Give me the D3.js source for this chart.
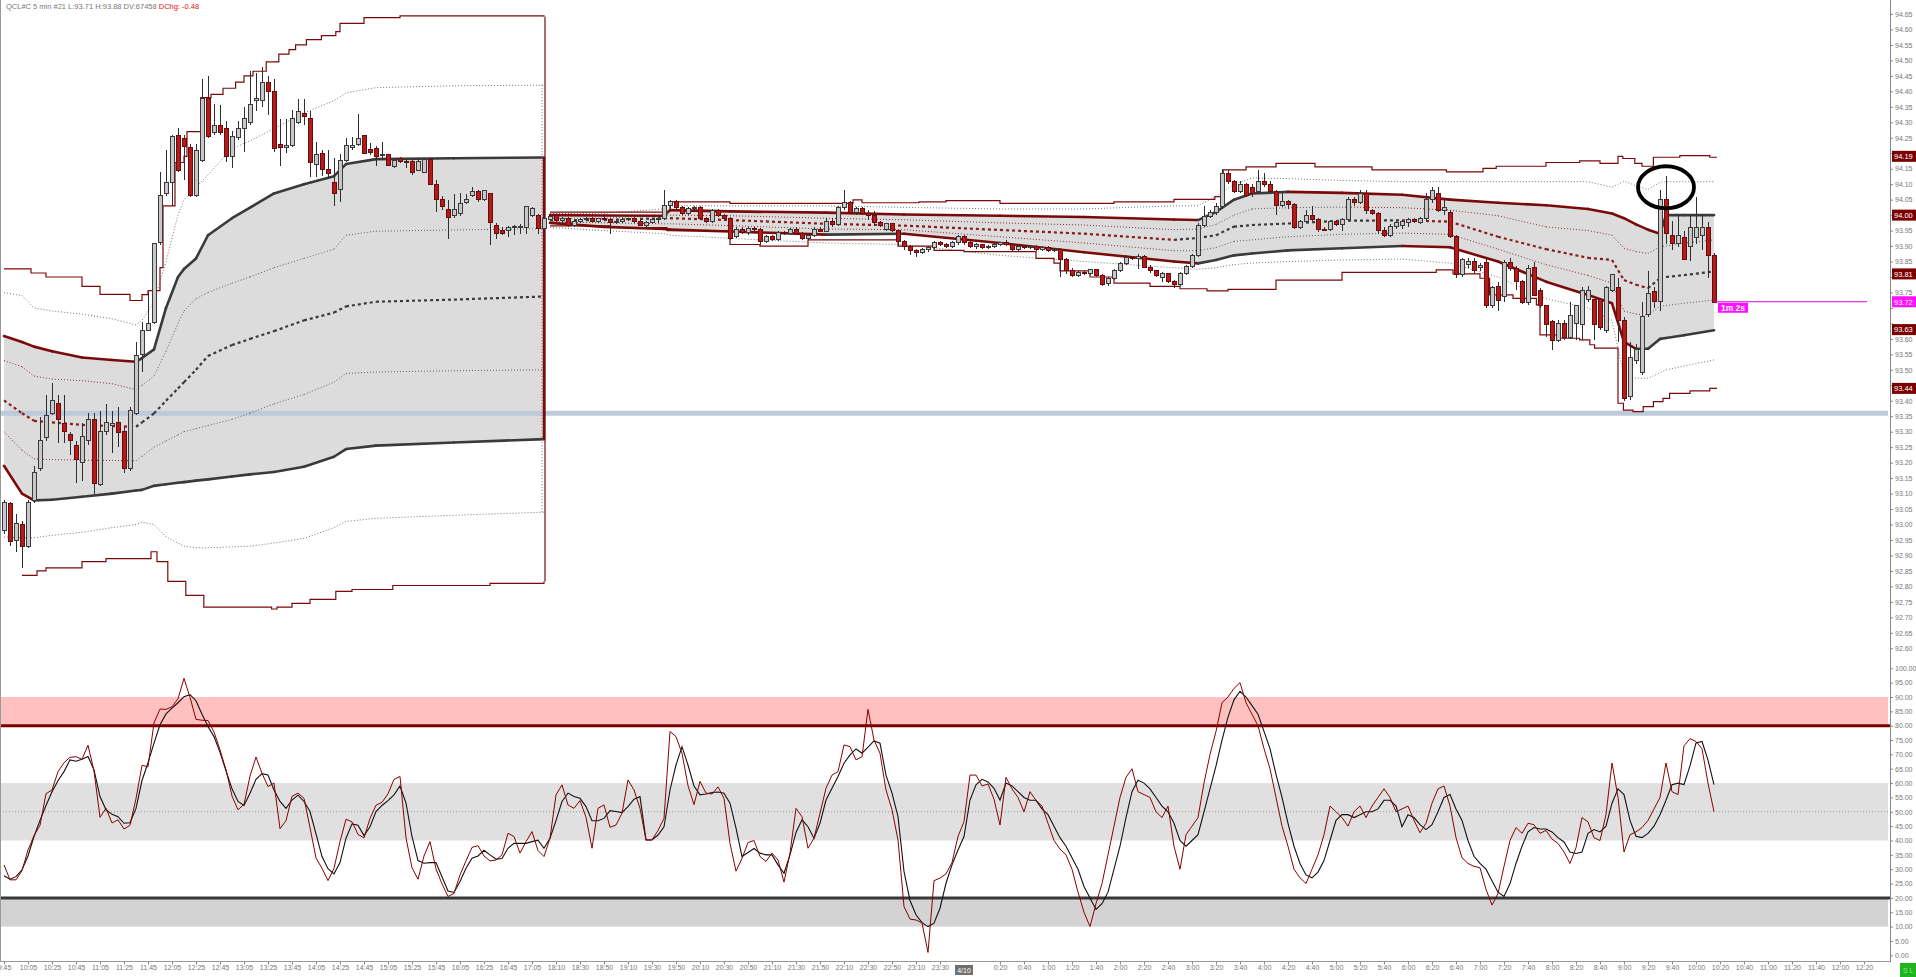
<!DOCTYPE html>
<html><head><meta charset="utf-8">
<script src="https://cdn.jsdelivr.net/npm/d3@7"></script>
<style>
body{margin:0;background:#fff;overflow:hidden}
svg{display:block}
text{font-family:"Liberation Sans",Arial,sans-serif}
</style>
</head><body>
<svg id="c" width="1916" height="977"></svg>
<script>
// ---------------- DATA ----------------
const header = "QCL#C  5 min   #21 L:93.71 H:93.88 DV:67458";
const headerChg = "DChg: -0.48";

// candles [open, high, low, close], one per 5-min bar
const candles = [
[92.98,93.078,92.97,93.072],[93.069,93.072,92.93,92.944],[92.95,93.034,92.912,93.002],[93.00,93.01,92.86,92.93],[92.93,93.08,92.925,93.072],
[93.078,93.19,93.07,93.168],[93.18,93.347,93.174,93.27],[93.28,93.42,93.27,93.353],[93.36,93.458,93.353,93.40],[93.39,93.42,93.264,93.34],
[93.327,93.42,93.264,93.30],[93.29,93.30,93.225,93.27],[93.257,93.27,93.133,93.21],[93.202,93.327,93.142,93.283],[93.27,93.36,93.257,93.34],
[93.34,93.36,93.098,93.133],[93.13,93.366,93.123,93.302],[93.30,93.39,93.29,93.33],[93.32,93.366,93.23,93.328],[93.33,93.379,93.25,93.296],
[93.302,93.315,93.168,93.18],[93.18,93.379,93.174,93.368],[93.36,93.59,93.353,93.547],[93.55,93.653,93.494,93.628],[93.628,93.75,93.624,93.65],
[93.654,93.91,93.648,93.909],[93.91,94.139,93.905,94.062],[94.07,94.21,94.062,94.107],[94.107,94.26,94.03,94.254],[94.258,94.28,94.139,94.143],
[94.248,94.26,94.113,94.222],[94.22,94.229,94.06,94.062],[94.062,94.229,94.06,94.21],[94.178,94.44,94.171,94.378],[94.378,94.45,94.248,94.254],
[94.267,94.36,94.26,94.29],[94.29,94.356,94.26,94.267],[94.28,94.305,94.171,94.19],[94.19,94.273,94.152,94.254],[94.25,94.305,94.242,94.28],
[94.28,94.35,94.203,94.312],[94.30,94.467,94.292,94.356],[94.37,94.459,94.337,94.378],[94.37,94.478,94.35,94.43],[94.43,94.45,94.324,94.399],
[94.40,94.44,94.203,94.216],[94.228,94.312,94.16,94.22],[94.22,94.31,94.20,94.225],[94.225,94.34,94.22,94.312],[94.30,94.375,94.296,94.335],
[94.33,94.375,94.292,94.318],[94.312,94.337,94.122,94.171],[94.165,94.235,94.122,94.197],[94.20,94.21,94.126,94.148],[94.148,94.21,94.12,94.133],
[94.107,94.183,94.03,94.07],[94.082,94.197,94.043,94.177],[94.177,94.248,94.171,94.225],[94.22,94.254,94.212,94.225],[94.229,94.327,94.225,94.248],
[94.257,94.257,94.197,94.199],[94.212,94.232,94.194,94.203],[94.216,94.222,94.16,94.19],[94.193,94.237,94.186,94.195],[94.197,94.199,94.158,94.16],
[94.158,94.184,94.152,94.177],[94.184,94.189,94.168,94.174],[94.174,94.181,94.152,94.172],[94.174,94.184,94.13,94.139],[94.145,94.184,94.143,94.174],
[94.139,94.184,94.135,94.18],[94.18,94.184,94.097,94.10],[94.10,94.113,94.011,94.05],[94.05,94.062,94.018,94.028],[94.018,94.05,93.922,93.992],
[93.998,94.069,93.992,94.018],[94.005,94.071,93.998,94.037],[94.04,94.069,94.037,94.05],[94.062,94.092,94.058,94.075],[94.075,94.081,94.043,94.05],
[94.05,94.081,94.046,94.078],[94.069,94.071,93.903,93.977],[93.967,93.973,93.922,93.941],[93.951,93.96,93.935,93.939],[93.951,93.964,93.93,93.96],
[93.962,93.969,93.935,93.964],[93.96,93.97,93.94,93.964],[93.96,94.03,93.94,94.028],[94.0,94.025,93.995,94.02],[94.0,94.005,93.94,93.957],
[93.957,94.0,93.95,93.99],[93.985,94.0,93.98,93.995],[94.0,94.005,93.978,93.982],[93.982,93.995,93.975,93.99],[93.99,93.995,93.96,93.965],
[93.965,93.985,93.96,93.98],[93.98,93.99,93.975,93.985],[93.985,93.995,93.98,93.99],[93.99,93.995,93.978,93.98],[93.98,93.99,93.975,93.988],
[93.988,93.995,93.98,93.985],[93.985,93.99,93.94,93.975],[93.975,93.985,93.97,93.98],[93.98,93.99,93.975,93.985],[93.985,93.99,93.98,93.988],
[93.988,93.995,93.975,93.978],[93.978,93.99,93.965,93.968],[93.968,93.98,93.96,93.975],[93.975,93.99,93.97,93.985],[93.985,93.998,93.975,93.99],
[93.99,94.08,93.985,94.03],[94.03,94.05,94.02,94.045],[94.045,94.05,94.02,94.025],[94.025,94.03,94.0,94.005],[94.005,94.025,94.0,94.02],
[94.02,94.03,94.01,94.025],[94.025,94.03,93.985,93.99],[93.99,93.995,93.975,93.98],[93.98,94.02,93.975,94.015],[94.015,94.02,93.995,94.0],
[94.0,94.005,93.985,93.99],[93.99,93.995,93.92,93.925],[93.93,93.96,93.925,93.955],[93.955,93.96,93.94,93.945],[93.945,93.96,93.935,93.958],
[93.958,93.962,93.95,93.955],[93.955,93.958,93.905,93.915],[93.915,93.935,93.91,93.93],[93.93,93.935,93.915,93.92],[93.92,93.95,93.915,93.945],
[93.945,93.95,93.935,93.94],[93.94,93.958,93.935,93.955],[93.955,93.96,93.94,93.942],[93.942,93.945,93.92,93.925],[93.925,93.94,93.92,93.935],
[93.935,93.96,93.93,93.955],[93.955,93.96,93.945,93.948],[93.948,93.99,93.945,93.98],[93.98,93.99,93.96,93.97],[93.97,94.03,93.965,94.025],
[94.025,94.08,94.015,94.04],[94.04,94.045,94.005,94.01],[94.01,94.025,94.0,94.02],[94.02,94.025,94.0,94.005],[94.005,94.015,93.985,94.0],
[94.0,94.012,93.965,93.975],[93.975,93.98,93.96,93.965],[93.955,93.975,93.95,93.972],[93.972,93.975,93.945,93.95],[93.95,93.952,93.9,93.915],
[93.915,93.92,93.888,93.9],[93.9,93.905,93.87,93.885],[93.885,93.89,93.866,93.88],[93.88,93.895,93.875,93.89],[93.89,93.9,93.88,93.895],
[93.895,93.915,93.89,93.91],[93.91,93.915,93.9,93.905],[93.905,93.91,93.895,93.9],[93.9,93.915,93.895,93.912],[93.912,93.935,93.905,93.93],
[93.93,93.935,93.905,93.91],[93.91,93.915,93.895,93.9],[93.9,93.91,93.89,93.905],[93.905,93.908,93.89,93.895],[93.895,93.905,93.892,93.9],
[93.9,93.91,93.895,93.905],[93.905,93.912,93.9,93.91],[93.91,93.918,93.9,93.905],[93.905,93.91,93.885,93.89],[93.89,93.905,93.885,93.9],
[93.9,93.905,93.89,93.895],[93.895,93.905,93.89,93.9],[93.9,93.905,93.885,93.89],[93.89,93.9,93.885,93.895],[93.895,93.9,93.88,93.885],
[93.885,93.895,93.88,93.89],[93.89,93.895,93.8,93.855],[93.855,93.86,93.81,93.82],[93.82,93.83,93.8,93.805],[93.805,93.82,93.8,93.815],
[93.815,93.82,93.805,93.81],[93.81,93.825,93.805,93.823],[93.823,93.826,93.8,93.805],[93.805,93.81,93.77,93.775],[93.78,93.8,93.772,93.795],
[93.795,93.825,93.79,93.82],[93.82,93.85,93.815,93.845],[93.845,93.87,93.84,93.862],[93.862,93.868,93.855,93.86],[93.86,93.875,93.825,93.866],
[93.866,93.87,93.83,93.832],[93.832,93.84,93.812,93.82],[93.82,93.822,93.8,93.805],[93.8,93.815,93.785,93.81],[93.81,93.812,93.78,93.785],
[93.785,93.79,93.763,93.776],[93.775,93.815,93.77,93.81],[93.81,93.84,93.805,93.835],[93.835,93.875,93.83,93.87],[93.87,93.975,93.865,93.965],
[93.965,94.03,93.96,93.995],[93.995,94.015,93.99,94.01],[94.01,94.038,94.0,94.028],[94.028,94.148,94.02,94.135],[94.135,94.145,94.1,94.11],
[94.11,94.115,94.07,94.075],[94.075,94.11,94.07,94.1],[94.1,94.105,94.06,94.065],[94.09,94.1,94.06,94.07],[94.075,94.145,94.07,94.11],
[94.11,94.135,94.09,94.1],[94.1,94.11,94.07,94.075],[94.075,94.08,94.0,94.03],[94.03,94.07,94.025,94.045],[94.045,94.05,94.02,94.035],
[94.035,94.04,93.955,93.96],[93.96,93.985,93.955,93.98],[93.98,94.015,93.975,94.0],[94.0,94.03,93.98,93.985],[93.985,93.99,93.945,93.955],
[93.955,93.96,93.95,93.952],[93.952,93.985,93.95,93.98],[93.98,93.985,93.965,93.97],[93.97,93.99,93.95,93.985],[93.985,94.06,93.98,94.05],
[94.05,94.06,94.03,94.04],[94.04,94.08,94.035,94.07],[94.07,94.08,94.005,94.015],[94.015,94.02,94.0,94.005],[94.005,94.01,93.94,93.95],
[93.95,93.96,93.93,93.935],[93.935,93.97,93.93,93.962],[93.962,93.98,93.955,93.975],[93.965,93.985,93.955,93.978],[93.975,93.99,93.96,93.985],
[93.985,93.99,93.975,93.98],[93.975,93.995,93.97,93.99],[93.99,94.07,93.985,94.05],[94.05,94.09,94.04,94.08],[94.07,94.09,94.01,94.015],
[94.015,94.05,94.0,94.025],[94.01,94.015,93.925,93.93],[93.93,93.935,93.797,93.808],[93.808,93.86,93.8,93.855],[93.84,93.86,93.83,93.85],
[93.85,93.86,93.81,93.82],[93.83,93.845,93.82,93.838],[93.848,93.86,93.70,93.707],[93.707,93.77,93.70,93.765],[93.77,93.785,93.69,93.725],
[93.737,93.855,93.72,93.848],[93.848,93.86,93.82,93.828],[93.828,93.835,93.757,93.787],[93.787,93.79,93.712,93.716],[93.716,93.84,93.71,93.828],
[93.83,93.85,93.74,93.74],[93.757,93.765,93.70,93.707],[93.707,93.71,93.605,93.645],[93.655,93.66,93.565,93.596],[93.596,93.66,93.59,93.65],
[93.65,93.66,93.595,93.605],[93.605,93.72,93.6,93.676],[93.65,93.71,93.595,93.707],[93.646,93.767,93.596,93.757],[93.726,93.77,93.72,93.757],
[93.727,93.73,93.595,93.646],[93.727,93.73,93.63,93.636],[93.626,93.77,93.62,93.767],[93.757,93.81,93.75,93.807],[93.767,93.798,93.59,93.66],
[93.66,93.672,93.40,93.408],[93.414,93.59,93.404,93.541],[93.53,93.585,93.52,93.565],[93.49,93.72,93.484,93.672],[93.678,93.818,93.67,93.748],
[93.753,93.767,93.70,93.721],[93.72,94.08,93.69,94.05],[94.05,94.126,93.908,93.939],[93.933,93.98,93.888,93.908],[93.908,93.999,93.898,93.935],
[93.928,93.948,93.855,93.858],[93.898,93.999,93.852,93.959],[93.929,94.06,93.908,93.959],[93.933,94.0,93.888,93.959],[93.959,93.979,93.797,93.868],
[93.868,93.878,93.716,93.717]
];

// stochastic %K (red) and %D (black), one per bar
const stochK = [
31.5,26.3,26.3,29.5,36.7,41.7,45.3,56.3,57.6,64.0, 67.1,69.0,69.2,68.3,73.2,64.2,48.1,51.2,46.1,47.2,
44.0,45.3,54.6,66.2,65.7,81.0,85.8,85.7,86.6,89.4, 96.5,89.9,82.2,81.9,81.8,77.8,71.6,64.6,55.5,50.7,
52.6,62.4,69.1,63.4,58.8,60.0,44.1,46.9,55.4,56.5, 54.7,44.5,33.9,30.3,26.0,30.3,39.6,47.4,46.5,42.1,
40.9,47.7,52.3,53.3,56.3,61.3,62.3,40.9,30.5,26.5, 34.6,39.6,30.1,24.9,20.5,21.6,28.0,32.9,37.6,38.2,
34.6,32.9,33.2,35.0,42.5,41.4,35.6,39.6,43.1,36.5, 34.4,40.8,55.9,59.4,52.4,51.2,53.9,48.1,37.3,51.2,
52.4,44.6,45.4,49.5,61.1,57.6,51.2,40.2,40.2,43.5, 47.7,78.0,76.2,70.4,59.1,52.5,60.6,56.5,56.2,58.7,
54.7,39.0,29.3,33.8,39.3,40.0,34.4,32.7,35.6,33.2, 25.5,35.6,51.2,48.3,37.3,40.8,49.5,58.2,62.8,64.0,
73.3,72.7,68.1,69.2,85.7,75.0,70.4,57.6,50.7,40.2, 17.0,12.6,12.3,11.3,1.0,26.0,26.9,28.4,32.3,41.4,
46.6,62.8,62.8,59.0,59.7,54.4,45.4,
62,58,55,50,57,54,52,46,40,37, 35,30,22,15,10,18,25,35,45,55, 62,65,57,56,55,50,48,52,38,30,
42,45,48,60,70,78,88,90,93,95, 88,84,80,72,65,55,45,38,30,27, 25,30,35,42,52,50,48,45,50,52, 48,52,55,58,55,50,
51,52,47,42.7,46,53,58,59,52,41, 34,32,31,30.5,23,17.5,21.5,31,40,44.5, 42.5,46,45.5,42.5,43.5,40.5,39,36,32,37.5,
48,46.5,41,40,49,67,55,36,42,43, 44.5,47,51,55,67,57,56,73,75.5,74.5, 72,60,50
];
const stochD = [
27.7,26.5,27.4,29.8,34.6,41.4,47.0,52.2,57.0,60.8, 64.0,68.1,67.6,68.3,69.3,64.6,55.3,50.7,49.1,48.3,
46.0,46.2,51.2,60.9,67.1,73.9,80.3,84.1,86.1,88.0, 90.1,90.8,88.7,84.0,79.7,76.2,70.7,64.3,58.0,53.6,
52.2,56.5,61.3,63.3,62.8,57.6,53.6,51.2,54.1,55.8, 53.6,50.1,42.3,34.4,30.2,28.4,32.3,40.8,45.8,45.3,
41.7,44.8,50.1,52.2,53.9,55.9,59.0,53.0,41.4,33.0, 32.1,32.3,32.3,27.4,22.4,21.9,25.7,30.3,33.8,34.6,
36.6,35.0,33.5,33.7,37.3,39.0,39.0,39.0,39.6,40.1, 37.3,40.8,46.9,53.6,56.5,55.3,54.7,51.8,46.9,46.9,
47.7,50.4,50.1,49.7,51.8,54.4,55.3,40.2,40.2,41.9, 44.8,57.6,66.3,72.7,66.3,59.0,55.9,56.2,56.7,56.9,
56.5,53.0,44.3,34.4,35.8,37.2,35.6,35.0,35.0,31.5, 28.6,35.0,42.8,47.2,44.8,40.8,46.0,54.1,58.2,62.3,
66.9,69.8,71.9,70.4,72.5,74.7,73.9,62.8,56.5,48.3, 29.2,19.1,14.1,11.4,10.0,11.2,16.4,25.1,31.5,36.7,
41.4,54.1,59.4,61.3,60.4,58.2,54.1,
60,59,57,55,54,54,51,49,45,41, 38,34,30,24,20,16,18,22,30,38, 48,57,61,60,58,55,52,50,46,40,
38,40,42,50,58,66,75,83,89,92, 90,87,84,78,72,63,55,46,38,32, 28,27,29,33,40,47,49,49,48,49, 50,50,51,54,54,52,
44.8,49,48,45.5,43.8,45.5,50,55,56,51, 47,40,34.5,32,30,26,22,20.5,25,32, 38,43,44.5,44,44,43,41,39.5,36,35.5,
36,42.5,43.8,43,45,53,58,56,47,41.5, 41,42.5,45,49,54,59.4,60,59.5,66,74, 74.5,68,59.5
];

// Day-session developing value bands (sampled at bar indices)
const s1Idx  = [0,3,5,8,13,18,22,23,25,27,29,30,32,34,38,41,45,50,55,57,62,75,90];
const s1Vah  = [93.609,93.59,93.575,93.56,93.54,93.532,93.526,93.538,93.566,93.70,93.80,93.826,93.86,93.935,93.99,94.024,94.07,94.10,94.126,94.165,94.181,94.184,94.186];
const s1Val  = [93.19,93.10,93.078,93.08,93.09,93.10,93.11,93.112,93.125,93.13,93.135,93.137,93.142,93.146,93.155,93.162,93.17,93.187,93.219,93.244,93.255,93.265,93.276];
const s1Mid  = [93.401,93.36,93.335,93.33,93.322,93.318,93.316,93.33,93.359,93.40,93.44,93.46,93.50,93.545,93.58,93.60,93.625,93.66,93.685,93.705,93.72,93.727,93.737];
const s1Sd1u = [93.53,93.51,93.48,93.47,93.465,93.455,93.436,93.45,93.48,93.56,93.65,93.69,93.73,93.75,93.78,93.80,93.83,93.86,93.89,93.935,93.948,93.952,93.956];
const s1Sd1d = [93.30,93.24,93.212,93.21,93.208,93.207,93.206,93.22,93.25,93.27,93.29,93.30,93.31,93.32,93.34,93.36,93.39,93.42,93.46,93.488,93.493,93.497,93.50];
const s1Sd2u = [93.749,93.74,93.70,93.69,93.68,93.665,93.645,93.66,93.72,93.85,94.0,94.05,94.09,94.13,94.215,94.24,94.28,94.33,94.37,94.395,94.412,94.418,94.42];
const s1Sd2d = [92.96,92.957,92.957,92.965,92.975,92.99,93.0,93.008,93.0,92.96,92.94,92.93,92.925,92.925,92.928,92.93,92.94,92.955,92.99,93.01,93.02,93.03,93.04];
const s1UoIdx = [0,4.5,7,13,16,21,23,24,26,26.5,28.5,30,30.5,32.8,34.5,36.5,38.6,40,41.5,43.7,45.8,47.5,48.6,50.4,52.9,55.3,56,60,66,90];
const s1UoVal = [93.826,93.813,93.80,93.77,93.744,93.724,93.743,93.756,93.83,94.03,94.17,94.19,94.27,94.38,94.39,94.41,94.43,94.45,94.465,94.495,94.52,94.535,94.55,94.567,94.58,94.593,94.62,94.638,94.644,94.641];
const s1LoIdx = [3,5.5,7,13,17,24.5,25.5,27.3,30.3,33.3,44.6,45.5,48,51,55.3,58,64.8,81,90];
const s1LoVal = [92.836,92.85,92.86,92.88,92.89,92.912,92.88,92.816,92.771,92.733,92.727,92.733,92.745,92.758,92.784,92.79,92.803,92.81,92.816];

// Overnight developing value bands
const s2Idx  = [91,100,110,111,121,137,150,166,180,195,199,202,205,208,214,223,233,241,249,257,264,268,270,272,274,276,277,280,285];
const s2Vah  = [94.0,93.999,93.998,94.016,94.012,94.008,94.002,93.998,93.994,93.986,93.984,94.01,94.05,94.07,94.075,94.072,94.066,94.05,94.04,94.032,94.02,94.005,93.99,93.97,93.953,93.94,94.0,94.0,94.0];
const s2Val  = [93.975,93.962,93.955,93.953,93.947,93.937,93.94,93.91,93.88,93.85,93.844,93.855,93.87,93.876,93.886,93.893,93.90,93.896,93.85,93.785,93.742,93.715,93.59,93.568,93.568,93.60,93.603,93.612,93.628];
const s2Mid  = [93.984,93.984,93.99,93.99,93.984,93.972,93.966,93.952,93.94,93.92,93.926,93.935,93.963,93.968,93.973,93.982,93.983,93.979,93.93,93.89,93.862,93.855,93.79,93.775,93.764,93.796,93.80,93.806,93.818];
const s2Sd1u = [93.99,93.99,94.0,94.0,93.998,93.99,93.985,93.975,93.968,93.953,93.955,93.97,94.0,94.02,94.024,94.026,94.024,94.016,93.998,93.962,93.95,93.935,93.893,93.882,93.876,93.898,93.90,93.91,93.92];
const s2Sd1d = [93.978,93.975,93.972,93.972,93.966,93.955,93.953,93.93,93.91,93.885,93.885,93.895,93.915,93.92,93.93,93.938,93.942,93.938,93.89,93.84,93.805,93.78,93.69,93.68,93.677,93.705,93.708,93.715,93.726];
const s2Sd2u = [94.005,94.006,94.02,94.03,94.03,94.03,94.025,94.02,94.02,94.03,94.03,94.06,94.10,94.12,94.118,94.112,94.108,94.108,94.108,94.108,94.108,94.09,94.11,94.095,94.083,94.106,94.108,94.108,94.108];
const s2Sd2d = [93.96,93.95,93.94,93.935,93.925,93.91,93.905,93.87,93.85,93.83,93.825,93.83,93.84,93.845,93.85,93.855,93.858,93.845,93.80,93.73,93.70,93.66,93.48,93.473,93.473,93.49,93.50,93.512,93.532];
const s2UoIdx = [91,99,110.5,111,121,141.5,143,152.5,157,166,185,195,201.8,203.2,207,212,218.5,228,240.4,246.5,248.7,257,262.6,266,269,269.8,271.8,273,274.9,279.3,284.3,285.5];
const s2UoVal = [94.01,94.01,94.012,94.043,94.038,94.049,94.04,94.043,94.047,94.038,94.043,94.051,94.06,94.146,94.156,94.167,94.156,94.146,94.14,94.151,94.158,94.17,94.175,94.167,94.19,94.183,94.167,94.158,94.187,94.192,94.187,94.187];
const s2LoIdx = [91,101,110.5,121,126,134,148.5,149,155,160,172,175,176,181,185,191,196,200.5,204,212,223,238.7,241.5,246,247.6,251.5,255.4,256,259.3,262.6,264.3,265.1,269,269.9,271.5,273.2,274.9,276.5,277.6,281,284.3,285.5];
const s2LoVal = [93.965,93.96,93.95,93.905,93.9,93.92,93.92,93.9,93.886,93.882,93.86,93.845,93.82,93.80,93.78,93.77,93.762,93.755,93.76,93.79,93.815,93.823,93.81,93.796,93.742,93.731,93.71,93.613,93.602,93.597,93.581,93.57,93.392,93.37,93.365,93.381,93.397,93.408,93.424,93.432,93.44,93.44];

const supportLevel = 93.36;
const lastPrice = 93.72;
const lastPriceLabel = "1m 2s";
const markerValues = [94.19, 94.00, 93.81, 93.63, 93.44];
const circledBar = 277, circledPrice = 94.09;

const oscZoneLo = [80, 40, 10];
const oscZoneHi = [90, 60, 20];
const oscZoneFill = ["#ffc0c0", "#e0e0e0", "#d3d3d3"];

const dayLabels = ["9:45","10:05","10:25","10:45","11:05","11:25","11:45","12:05","12:25","12:45","13:05","13:25","13:45","14:05","14:25","14:45","15:05","15:25","15:45","16:05","16:25","16:45","17:05"];
const eveLabels = ["18:10","18:30","18:50","19:10","19:30","19:50","20:10","20:30","20:50","21:10","21:30","21:50","22:10","22:30","22:50","23:10","23:30"];
const nextLabels = ["0:20","0:40","1:00","1:20","1:40","2:00","2:20","2:40","3:00","3:20","3:40","4:00","4:20","4:40","5:00","5:20","5:40","6:00","6:20","6:40","7:00","7:20","7:40","8:00","8:20","8:40","9:00","9:20","9:40","10:00","10:20","10:40","11:00","11:20","11:40","12:00","12:20"];
const dateLabel = "4/10", dateIdx = 160;

// ---------------- DRAW ----------------
const svg = d3.select('#c');
const AXX = 1890;
const x  = d3.scaleLinear().domain([0, 310]).range([4, 1864]);
const yP = d3.scaleLinear().domain([92.60, 94.65]).range([648.3, 14]);
const yO = d3.scaleLinear().domain([0, 100]).range([955.3, 668.3]);
const RED = '#7a0a0a', DK = '#3a3a3a';
const FONT = 7;

svg.append('rect').attr('width',1916).attr('height',977).attr('fill','#fff');

// oscillator zones
const gO = svg.append('g');
oscZoneLo.forEach((lo,k)=>{
  gO.append('rect').attr('x',0).attr('width',AXX-2)
    .attr('y',yO(oscZoneHi[k])).attr('height',yO(lo)-yO(oscZoneHi[k])).attr('fill',oscZoneFill[k]);
});
gO.append('line').attr('x1',0).attr('x2',AXX).attr('y1',yO(50)).attr('y2',yO(50))
  .attr('stroke','#888').attr('stroke-width',0.8).attr('stroke-dasharray','1,2');
gO.append('line').attr('x1',0).attr('x2',AXX).attr('y1',yO(80)).attr('y2',yO(80))
  .attr('stroke','#7a0000').attr('stroke-width',3);
gO.append('line').attr('x1',0).attr('x2',AXX).attr('y1',yO(20)).attr('y2',yO(20))
  .attr('stroke','#383838').attr('stroke-width',3);
const oscLine = d3.line().x((d,i)=>x(i)).y(d=>yO(d));
gO.append('path').attr('d',oscLine(stochD)).attr('fill','none').attr('stroke','#111').attr('stroke-width',1.1);
gO.append('path').attr('d',oscLine(stochK)).attr('fill','none').attr('stroke','#8b0000').attr('stroke-width',1);

// price pane
const gP = svg.append('g');
function zipPts(idx, a, b){ return idx.map((d,k)=>({i:d,a:a[k],b:b?b[k]:null})); }
const area = d3.area().x(d=>x(d.i)).y0(d=>yP(d.b)).y1(d=>yP(d.a));
gP.append('path').attr('d',area(zipPts(s1Idx,s1Vah,s1Val))).attr('fill','#dcdcdc');
gP.append('path').attr('d',area(zipPts(s2Idx,s2Vah,s2Val))).attr('fill','#dcdcdc');

// support line
gP.append('line').attr('x1',0).attr('x2',AXX-2).attr('y1',yP(supportLevel)).attr('y2',yP(supportLevel))
  .attr('stroke','#bccadb').attr('stroke-width',5);

function slopeSegs(idx, vals, w, dash, redC, grayC){
  for(let k=0;k<idx.length-1;k++){
    const c = vals[k+1] < vals[k]-1e-4 ? redC : grayC;
    gP.append('line').attr('x1',x(idx[k])).attr('y1',yP(vals[k]))
      .attr('x2',x(idx[k+1])).attr('y2',yP(vals[k+1]))
      .attr('stroke',c).attr('stroke-width',w)
      .attr('stroke-dasharray',dash)
      .attr('stroke-linecap',dash?'butt':'round');
  }
}
const plainLine = d3.line().x(d=>x(d.i)).y(d=>yP(d.a));
function dotted(idx, vals, color){
  gP.append('path').attr('d',plainLine(zipPts(idx,vals))).attr('fill','none')
    .attr('stroke',color).attr('stroke-width',0.9).attr('stroke-dasharray','1,2');
}
const stepLine = d3.line().x(d=>x(d.i)).y(d=>yP(d.a)).curve(d3.curveStepAfter);
function stepped(idx, vals){
  gP.append('path').attr('d',stepLine(zipPts(idx,vals))).attr('fill','none')
    .attr('stroke',RED).attr('stroke-width',1.2);
}

// segment 1
dotted(s1Idx, s1Sd2u, '#666'); dotted(s1Idx, s1Sd2d, '#666');
slopeSegs(s1Idx, s1Sd1u, 0.9, '1,2', '#8b1a1a', '#555');
slopeSegs(s1Idx, s1Sd1d, 0.9, '1,2', '#8b1a1a', '#555');
slopeSegs(s1Idx, s1Mid, 2.2, '3,3', '#8b1a1a', DK);
slopeSegs(s1Idx, s1Vah, 2.6, null, RED, DK);
slopeSegs(s1Idx, s1Val, 2.6, null, RED, DK);
stepped(s1UoIdx, s1UoVal); stepped(s1LoIdx, s1LoVal);
// session-end verticals
const endI = s1Idx[s1Idx.length-1];
gP.append('line').attr('x1',x(endI)-2).attr('x2',x(endI)-2)
  .attr('y1',yP(s1Sd2u[s1Sd2u.length-1])).attr('y2',yP(s1Sd2d[s1Sd2d.length-1]))
  .attr('stroke','#666').attr('stroke-width',0.9).attr('stroke-dasharray','1,2');
gP.append('line').attr('x1',x(endI)).attr('x2',x(endI))
  .attr('y1',yP(s1Vah[s1Vah.length-1])).attr('y2',yP(s1Val[s1Val.length-1]))
  .attr('stroke',RED).attr('stroke-width',2.4);
gP.append('line').attr('x1',x(endI)+1).attr('x2',x(endI)+1)
  .attr('y1',yP(s1UoVal[s1UoVal.length-1])).attr('y2',yP(s1LoVal[s1LoVal.length-1]))
  .attr('stroke',RED).attr('stroke-width',1.2);

// segment 2
dotted(s2Idx, s2Sd2u, '#666'); dotted(s2Idx, s2Sd2d, '#666');
slopeSegs(s2Idx, s2Sd1u, 0.9, '1,2', '#8b1a1a', '#555');
slopeSegs(s2Idx, s2Sd1d, 0.9, '1,2', '#8b1a1a', '#555');
slopeSegs(s2Idx, s2Mid, 2.2, '3,3', '#8b1a1a', DK);
slopeSegs(s2Idx, s2Vah, 2.6, null, RED, DK);
slopeSegs(s2Idx, s2Val, 2.6, null, RED, DK);
stepped(s2UoIdx, s2UoVal); stepped(s2LoIdx, s2LoVal);

// candles
const gC = gP.append('g').attr('shape-rendering','crispEdges');
candles.forEach((c,i)=>{
  const [o,h,l,cl] = c; const xc = Math.round(x(i));
  const up = cl >= o;
  gC.append('line').attr('x1',xc+0.5).attr('x2',xc+0.5).attr('y1',yP(h)).attr('y2',yP(l))
    .attr('stroke','#2e2e2e').attr('stroke-width',1.4);
  const top = yP(Math.max(o,cl)), bot = yP(Math.min(o,cl));
  gC.append('rect').attr('x',xc-1.5).attr('width',4).attr('y',top).attr('height',Math.max(1,bot-top))
    .attr('fill', up ? '#c8c8c8' : '#b31b1b')
    .attr('stroke', up ? '#3a3a3a' : '#6a0c0c').attr('stroke-width',1);
});

// last price line + timer label
const lastI = candles.length-1;
gP.append('line').attr('x1',x(lastI)).attr('x2',1867).attr('y1',yP(lastPrice)).attr('y2',yP(lastPrice))
  .attr('stroke','#e000e0').attr('stroke-width',1);
gP.append('rect').attr('x',x(lastI)+4).attr('y',yP(lastPrice)+1).attr('width',30).attr('height',10).attr('fill','#ff10ff');
gP.append('text').attr('x',x(lastI)+19).attr('y',yP(lastPrice)+9.2).attr('text-anchor','middle')
  .attr('fill','#fff').attr('font-size',8.5).attr('font-weight','bold').text(lastPriceLabel);

// ellipse annotation
gP.append('ellipse').attr('cx',x(circledBar)).attr('cy',yP(circledPrice)).attr('rx',28).attr('ry',21)
  .attr('fill','none').attr('stroke','#000').attr('stroke-width',3.8);

// left border
svg.append('line').attr('x1',0.5).attr('x2',0.5).attr('y1',0).attr('y2',961).attr('stroke','#999');

// right axes (price tick labels hidden where a value marker covers them)
const allMarks = [...markerValues, lastPrice];
const priceTicks = d3.range(0,42).map(k=>92.60+k*0.05);
const axP = d3.axisRight(yP).tickValues(priceTicks).tickFormat(d=> allMarks.some(m=>Math.abs(yP(m)-yP(d))<9) ? '' : d3.format('.2f')(d)).tickSize(3).tickPadding(2);
const axO = d3.axisRight(yO).tickValues(d3.range(0,21).map(k=>k*5)).tickFormat(d3.format('.2f')).tickSize(3).tickPadding(2);
[axP, axO].forEach(ax=>{
  const g = svg.append('g').attr('transform',`translate(${AXX},0)`).call(ax);
  g.select('.domain').remove();
  g.selectAll('line').attr('stroke','#888');
  g.selectAll('text').attr('fill','#777').attr('font-size',FONT).attr('font-family','"Liberation Sans",Arial,sans-serif');
});
svg.append('line').attr('x1',AXX+0.5).attr('x2',AXX+0.5).attr('y1',0).attr('y2',962).attr('stroke','#888');

// right value markers
function marker(v, fill){
  svg.append('rect').attr('x',AXX+2).attr('y',yP(v)-5.5).attr('width',24).attr('height',11).attr('fill',fill);
  svg.append('text').attr('x',AXX+4).attr('y',yP(v)+2.8).attr('fill','#fff').attr('font-size',7.5).text(v.toFixed(2));
}
markerValues.forEach(v=>marker(v,'#7a0000'));
marker(lastPrice,'#ff10ff');

// bottom time axis
const tickIdx = [...d3.range(0,89,4), ...d3.range(92,157,4), ...d3.range(166,311,4)];
const tickLab = [...dayLabels, ...eveLabels, ...nextLabels];
const axT = d3.axisBottom(x).tickValues(tickIdx).tickFormat((d,i)=>tickLab[i]).tickSize(3).tickPadding(1);
const gT = svg.append('g').attr('transform','translate(0,961.5)').call(axT);
gT.select('.domain').remove();
gT.selectAll('line').attr('stroke','#888');
gT.selectAll('text').attr('fill','#777').attr('font-size',FONT).attr('font-family','"Liberation Sans",Arial,sans-serif');
svg.append('line').attr('x1',0).attr('x2',AXX).attr('y1',961.5).attr('y2',961.5).attr('stroke','#999');
svg.append('rect').attr('x',x(dateIdx)-9).attr('y',965).attr('width',18).attr('height',10).attr('fill','#707070');
svg.append('text').attr('x',x(dateIdx)).attr('y',973).attr('text-anchor','middle').attr('fill','#fff').attr('font-size',FONT).text(dateLabel);

// status box
svg.append('rect').attr('x',1900).attr('y',963).attr('width',16).attr('height',14).attr('fill','#1fb51f');
svg.append('text').attr('x',1903).attr('y',973).attr('fill','#8fe08f').attr('font-size',7).text('S L');

// header
const hd = svg.append('text').attr('x',6).attr('y',8.5).attr('font-size',7.5).attr('fill','#777');
hd.append('tspan').text(header + ' ');
hd.append('tspan').attr('fill','#e01010').text(headerChg);
</script>
</body></html>
